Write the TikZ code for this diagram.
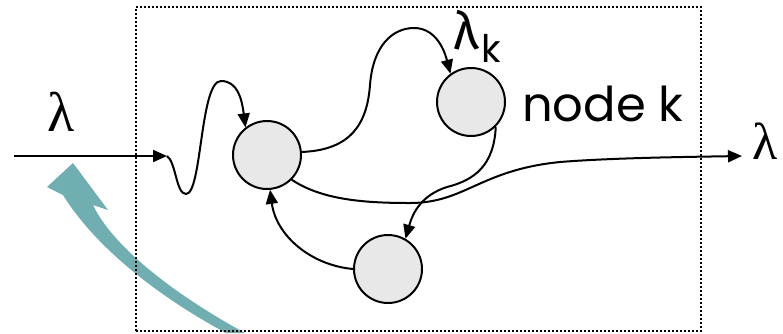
\documentclass[tikz,border=0pt]{standalone}
\usepackage{fontspec}
\newfontfamily\geo{Poppins}
\newfontfamily\grk{Fira Sans}
\newfontfamily\srf{Liberation Serif}
\usetikzlibrary{arrows.meta}
\definecolor{teal1}{RGB}{112,174,177}
\definecolor{nodegray}{RGB}{232,232,232}
\tikzset{
  qnode/.style={circle,draw,line width=2pt,fill=nodegray,minimum size=68pt,inner sep=0pt},
  conn/.style={line width=2pt},
  arr/.style={conn,-{Triangle[length=14pt,width=12pt]}},
  box/.style={line width=1.8pt,dash pattern=on 2pt off 2pt},
}
\begin{document}
\begin{tikzpicture}[x=1pt,y=-1pt]
\useasboundingbox (0,0) rectangle (783,333);
% teal arrow
\fill[teal1] (73,163) -- (108,210) -- (93,205)
  .. controls (112,245) and (170,292) .. (245,333) -- (226,333)
  .. controls (150,292) and (92,242) .. (63,195) -- (47,187) -- cycle;
% box
\node[box,draw,minimum width=565pt,minimum height=324pt,inner sep=0pt,anchor=north west] (frame) at (135,6) {};
% nodes
\node[qnode] (n1) at (267,155) {};
\node[qnode] (nk) at (471,102) {};
\node[qnode] (nb) at (388,269) {};
% labels
\node[inner sep=0pt] (lin) at (61,112) {\fontsize{56}{56}\selectfont\srf λ};
\node[inner sep=0pt,anchor=west] (lout) at (752,141) {\fontsize{52}{52}\selectfont\srf λ};
\node[inner sep=0pt] (lk) at (466,30) {\fontsize{52}{52}\selectfont\grk λ};
\node[inner sep=0pt] (lksub) at (491,48) {\fontsize{38}{38}\selectfont\geo k};
\node[inner sep=0pt,anchor=base west] (nklabel) at (522,121) {\fontsize{48}{48}\selectfont\geo node k};
% coordinates
\coordinate (in) at (14,156);
\coordinate (w) at (167,156);
\coordinate (out) at (742,156);
% input
\draw[arr] (in) -- (w);
\draw[arr] (w) .. controls (176,162) and (176,194) .. (186,194)
  .. controls (202,194) and (200,81) .. (221,81)
  .. controls (238,81) and (242,100) .. (n1.128);
% n1 -> nk
\draw[arr] (n1.5) .. controls (350,150) and (367,125) .. (370,85)
  .. controls (373,45) and (393,28) .. (414,28)
  .. controls (433,28) and (443,45) .. (nk.126);
% nk -> nb
\draw[arr] (nk.-45) .. controls (494,165) and (475,180) .. (447,187)
  .. controls (422,195) and (413,212) .. (nb.60);
% nb -> n1
\draw[arr] (nb.180) .. controls (310,265) and (276,235) .. (n1.-85);
% n1 -> out
\draw[arr] (n1.-45) .. controls (322,200) and (365,203) .. (410,203)
  .. controls (465,203) and (480,170) .. (560,162)
  .. controls (610,158) and (680,157) .. (out);
\end{tikzpicture}
\end{document}
